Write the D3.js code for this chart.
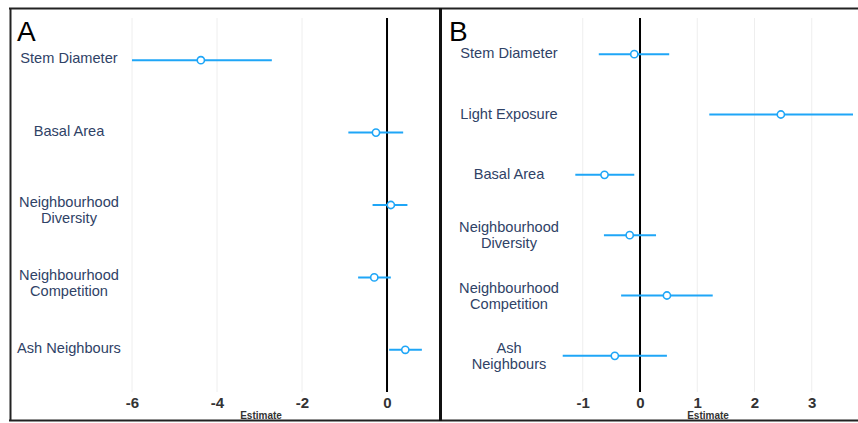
<!DOCTYPE html>
<html>
<head>
<meta charset="utf-8">
<script src="https://cdn.jsdelivr.net/npm/d3@7"></script>
<style>
  html, body { margin: 0; padding: 0; background: #fff; }
  svg { display: block; }
</style>
</head>
<body>
<svg id="chart" width="858" height="423"></svg>
<script>
// ---- Data ----
const categoriesA = [["Stem Diameter"], ["Basal Area"], ["Neighbourhood", "Diversity"], ["Neighbourhood", "Competition"], ["Ash Neighbours"]];
const estimateA = [-4.38, -0.26, 0.09, -0.30, 0.43];
const lowerA    = [-6.00, -0.91, -0.34, -0.68, 0.05];
const upperA    = [-2.71, 0.38, 0.48, 0.09, 0.82];
const ticksA    = [-6, -4, -2, 0];

const categoriesB = [["Stem Diameter"], ["Light Exposure"], ["Basal Area"], ["Neighbourhood", "Diversity"], ["Neighbourhood", "Competition"], ["Ash", "Neighbours"]];
const estimateB = [-0.10, 2.46, -0.62, -0.18, 0.47, -0.44];
const lowerB    = [-0.72, 1.21, -1.13, -0.63, -0.33, -1.35];
const upperB    = [0.51, 3.72, -0.10, 0.28, 1.27, 0.47];
const ticksB    = [-1, 0, 1, 2, 3];

const svg = d3.select("#chart");
const blue = "#1fa6f7";
const labelColor = "#2f4266";
const fontFam = "Liberation Sans, Arial, sans-serif";

function panel(opts) {
  const g = svg.append("g");
  const x = d3.scaleLinear().domain(opts.domain).range(opts.xRange);
  const y = d3.scalePoint().domain(opts.cats.map((d, i) => i)).range([24, 386]).padding(0.5);
  const top = 18, bottom = 392;

  // grid lines
  g.selectAll("line.grid").data(opts.ticks.filter(t => t !== 0)).enter().append("line")
    .attr("x1", d => x(d)).attr("x2", d => x(d))
    .attr("y1", top).attr("y2", bottom)
    .attr("stroke", "#eeeeee").attr("stroke-width", 1);

  // zero line
  g.append("line").attr("x1", x(0)).attr("x2", x(0)).attr("y1", top).attr("y2", bottom)
    .attr("stroke", "#000").attr("stroke-width", 2);

  // tick labels via axis
  const axis = d3.axisBottom(x).tickValues(opts.ticks).tickSize(0).tickPadding(0)
    .tickFormat(d => d < 0 ? "-" + Math.abs(d) : String(d));
  const ax = g.append("g").attr("transform", `translate(0,${bottom})`).call(axis);
  ax.select(".domain").remove();
  ax.selectAll("text").attr("y", 16).attr("dy", null)
    .style("font-family", fontFam)
    .style("font-size", "15px").style("font-weight", "bold").attr("fill", "#333");

  // axis title
  g.append("text").attr("x", opts.titleX).attr("y", 419)
    .attr("text-anchor", "middle")
    .style("font-family", fontFam)
    .style("font-size", "10px").style("font-weight", "bold").attr("fill", "#333")
    .text("Estimate");

  // category labels
  opts.cats.forEach((lines, i) => {
    const cy = y(i);
    const n = lines.length;
    const off = n === 1 ? opts.off1 : opts.off2;
    const lh = 16;
    const t = g.append("text").attr("text-anchor", "middle")
      .style("font-family", fontFam)
      .style("font-size", "14.6px").attr("fill", labelColor);
    lines.forEach((ln, j) => {
      t.append("tspan").attr("x", opts.labelX)
        .attr("y", cy + off - (n - 1) * lh / 2 + j * lh + 5.2)
        .text(ln);
    });
  });

  // error bars
  g.selectAll("line.err").data(opts.est).enter().append("line")
    .attr("x1", (d, i) => x(opts.lo[i])).attr("x2", (d, i) => x(opts.hi[i]))
    .attr("y1", (d, i) => y(i)).attr("y2", (d, i) => y(i))
    .attr("stroke", blue).attr("stroke-width", 2);

  g.selectAll("circle.pt").data(opts.est).enter().append("circle")
    .attr("cx", d => x(d)).attr("cy", (d, i) => y(i)).attr("r", 3.6)
    .attr("fill", "#fff").attr("stroke", blue).attr("stroke-width", 1.6);

  // panel letter
  g.append("text").attr("x", opts.letterX).attr("y", 41)
    .style("font-family", fontFam)
    .style("font-size", "28px").attr("fill", "#000")
    .text(opts.letter);
}

panel({
  cats: categoriesA, est: estimateA, lo: lowerA, hi: upperA, ticks: ticksA,
  domain: [-7.106, 1.176], xRange: [85, 437], labelX: 69, titleX: 261,
  off1: -2, off2: 5, letter: "A", letterX: 17
});
panel({
  cats: categoriesB, est: estimateB, lo: lowerB, hi: upperB, ticks: ticksB,
  domain: [-1.345, 3.755], xRange: [563, 855], labelX: 509, titleX: 708,
  off1: -1, off2: 0, letter: "B", letterX: 449
});

// borders
svg.append("line").attr("x1", 9).attr("x2", 858).attr("y1", 8.5).attr("y2", 8.5)
  .attr("stroke", "#222").attr("stroke-width", 2);
svg.append("line").attr("x1", 9).attr("x2", 858).attr("y1", 420.5).attr("y2", 420.5)
  .attr("stroke", "#222").attr("stroke-width", 2);
svg.append("line").attr("x1", 10.5).attr("x2", 10.5).attr("y1", 8).attr("y2", 421)
  .attr("stroke", "#222").attr("stroke-width", 2);
svg.append("line").attr("x1", 440.5).attr("x2", 440.5).attr("y1", 8).attr("y2", 421)
  .attr("stroke", "#111").attr("stroke-width", 3);
</script>
</body>
</html>
